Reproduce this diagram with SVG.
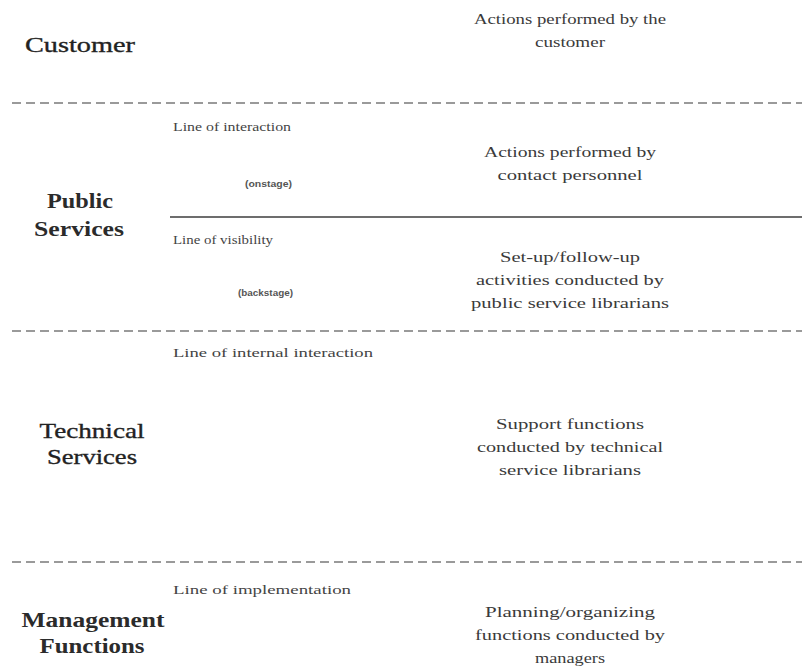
<svg xmlns="http://www.w3.org/2000/svg" width="802" height="666" viewBox="0 0 802 666">
  <style>
    .lane { font-family: "Liberation Serif", "Times New Roman", serif; font-weight: bold; font-size: 21px; fill: #2b2b2b; text-anchor: middle; }
    .lane-light { font-family: "Liberation Serif", "Times New Roman", serif; font-size: 22px; fill: #222; text-anchor: middle; stroke: #222; stroke-width: 0.35; }
    .act { font-family: "Liberation Serif", "Times New Roman", serif; font-size: 15.5px; fill: #3a3a3a; text-anchor: middle; }
    .line-label { font-family: "Liberation Serif", "Times New Roman", serif; font-size: 13px; fill: #444; }
    .stage { font-family: "Liberation Sans", Arial, sans-serif; font-weight: bold; font-size: 8.5px; fill: #555; }
    .dash { stroke: #7a7a7a; stroke-width: 1.6; stroke-dasharray: 9 5; fill: none; }
    .solid { stroke: #3c3c3c; stroke-width: 1.6; fill: none; }
  </style>
  <rect width="802" height="666" fill="#ffffff"/>

  <!-- separating lines between the lanes -->
  <g id="lines">
    <line class="dash" x1="12" y1="103" x2="802" y2="103"/>
    <line class="solid" x1="170" y1="217" x2="802" y2="217"/>
    <line class="dash" x1="12" y1="331" x2="802" y2="331"/>
    <line class="dash" x1="12" y1="562" x2="802" y2="562"/>
  </g>

  <!-- customer lane -->
  <g id="customer">
    <text class="lane-light" x="80" y="52" textLength="110" lengthAdjust="spacingAndGlyphs">Customer</text>
    <text class="act" x="570" y="24" textLength="192" lengthAdjust="spacingAndGlyphs">Actions performed by the</text>
    <text class="act" x="570" y="47" textLength="70" lengthAdjust="spacingAndGlyphs">customer</text>
  </g>

  <!-- public services lane: onstage and backstage -->
  <g id="public-services">
    <text class="lane" x="80" y="208" textLength="66" lengthAdjust="spacingAndGlyphs">Public</text>
    <text class="lane" x="79" y="236" textLength="90" lengthAdjust="spacingAndGlyphs">Services</text>
    <text class="line-label" x="173" y="131" textLength="118" lengthAdjust="spacingAndGlyphs">Line of interaction</text>
    <text class="stage" x="245" y="187" textLength="47" lengthAdjust="spacingAndGlyphs">(onstage)</text>
    <text class="act" x="570" y="157" textLength="172" lengthAdjust="spacingAndGlyphs">Actions performed by</text>
    <text class="act" x="570" y="180" textLength="145" lengthAdjust="spacingAndGlyphs">contact personnel</text>
    <text class="line-label" x="173" y="244" textLength="100" lengthAdjust="spacingAndGlyphs">Line of visibility</text>
    <text class="stage" x="238" y="296" textLength="55" lengthAdjust="spacingAndGlyphs">(backstage)</text>
    <text class="act" x="570" y="262" textLength="140" lengthAdjust="spacingAndGlyphs">Set-up/follow-up</text>
    <text class="act" x="570" y="285" textLength="188" lengthAdjust="spacingAndGlyphs">activities conducted by</text>
    <text class="act" x="570" y="308" textLength="198" lengthAdjust="spacingAndGlyphs">public service librarians</text>
  </g>

  <!-- technical services lane -->
  <g id="technical-services">
    <text class="lane-light" x="92" y="438" textLength="105" lengthAdjust="spacingAndGlyphs">Technical</text>
    <text class="lane-light" x="92" y="464" textLength="90" lengthAdjust="spacingAndGlyphs">Services</text>
    <text class="line-label" x="173" y="357" textLength="200" lengthAdjust="spacingAndGlyphs">Line of internal interaction</text>
    <text class="act" x="570" y="429" textLength="148" lengthAdjust="spacingAndGlyphs">Support functions</text>
    <text class="act" x="570" y="452" textLength="186" lengthAdjust="spacingAndGlyphs">conducted by technical</text>
    <text class="act" x="570" y="475" textLength="142" lengthAdjust="spacingAndGlyphs">service librarians</text>
  </g>

  <!-- management functions lane -->
  <g id="management-functions">
    <text class="lane" x="93" y="627" textLength="143" lengthAdjust="spacingAndGlyphs">Management</text>
    <text class="lane" x="92" y="653" textLength="105" lengthAdjust="spacingAndGlyphs">Functions</text>
    <text class="line-label" x="173" y="594" textLength="178" lengthAdjust="spacingAndGlyphs">Line of implementation</text>
    <text class="act" x="570" y="617" textLength="170" lengthAdjust="spacingAndGlyphs">Planning/organizing</text>
    <text class="act" x="570" y="640" textLength="190" lengthAdjust="spacingAndGlyphs">functions conducted by</text>
    <text class="act" x="570" y="663" textLength="70" lengthAdjust="spacingAndGlyphs">managers</text>
  </g>
</svg>
